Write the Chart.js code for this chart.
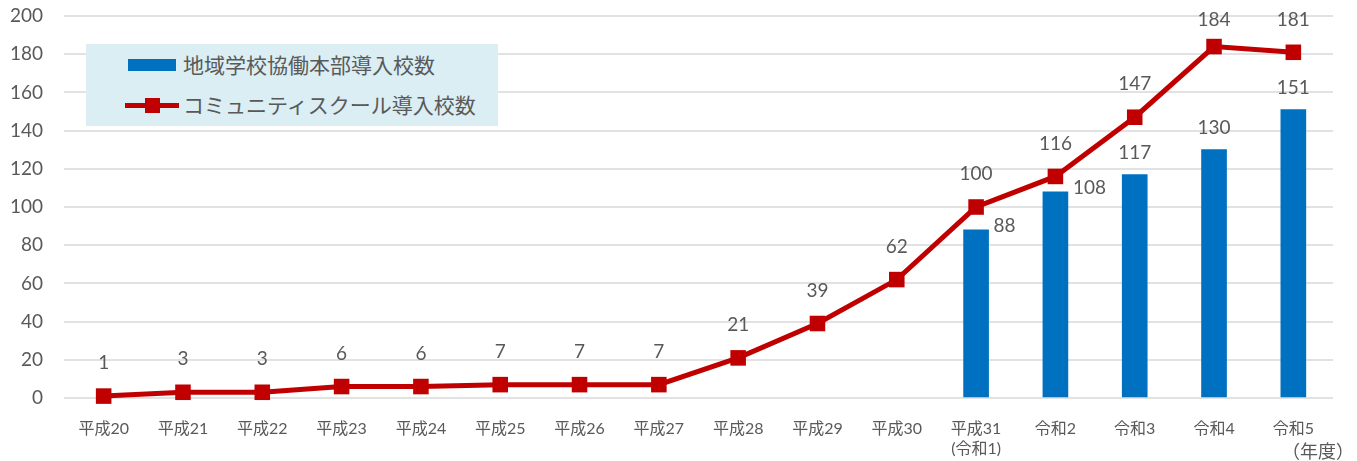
<!DOCTYPE html>
<html>
<head>
<meta charset="utf-8">
<script src="https://cdn.jsdelivr.net/npm/chart.js@4"></script>
<style>
  body { margin: 0; background: #fff; }
  #wrap { position: relative; width: 1357px; height: 461px; font-family: Lato, 'Noto Sans CJK JP', sans-serif; color: #595959; }
  #legend { position: absolute; left: 86px; top: 44px; width: 412px; height: 82px; background: #daeef3; }
  .row { position: absolute; left: 0; height: 24px; font-size: 21px; line-height: 24px; }
  .row span.txt { position: absolute; left: 97px; white-space: nowrap; }
  #unit { position: absolute; left: 1282px; top: 440px; font-size: 18px; line-height: 22px; white-space: nowrap; }
</style>
</head>
<body>
<div id="wrap">
  <canvas id="chart" width="1357" height="461"></canvas>
  <div id="legend">
    <div class="row" style="top:9px">
      <div style="position:absolute;left:42px;top:6px;width:48px;height:12px;background:#0070c0"></div>
      <span class="txt">地域学校協働本部導入校数</span>
    </div>
    <div class="row" style="top:49px">
      <div style="position:absolute;left:39px;top:10px;width:54px;height:5px;background:#c00000"></div>
      <div style="position:absolute;left:59px;top:5px;width:15px;height:15px;background:#c00000"></div>
      <span class="txt">コミュニティスクール導入校数</span>
    </div>
  </div>
  <div id="unit">（年度）</div>
</div>
<script>
const years = ['平成20', '平成21', '平成22', '平成23', '平成24', '平成25', '平成26', '平成27',
  '平成28', '平成29', '平成30', ['平成31', '(令和1)'], '令和2', '令和3', '令和4', '令和5'];
const honbu = [null, null, null, null, null, null, null, null, null, null, null, 88, 108, 117, 130, 151];
const community = [1, 3, 3, 6, 6, 7, 7, 7, 21, 39, 62, 100, 116, 147, 184, 181];
const yTicks = [0, 20, 40, 60, 80, 100, 120, 140, 160, 180, 200];

const FONT = "Lato, 'Noto Sans CJK JP', sans-serif";
const GRAY = '#595959';

// value labels: line above the point, bar above or to the right if the line label is close
const valueLabels = {
  id: 'valueLabels',
  afterDatasetsDraw(chart) {
    const ctx = chart.ctx;
    const lineMeta = chart.getDatasetMeta(1);
    const barMeta = chart.getDatasetMeta(0);
    ctx.save();
    ctx.font = '19px ' + FONT;
    ctx.fillStyle = GRAY;
    ctx.textBaseline = 'middle';

    lineMeta.data.forEach((pt, i) => {
      ctx.textAlign = 'center';
      ctx.fillText(String(community[i]), pt.x, Math.max(pt.y - 33, 20));
    });

    barMeta.data.forEach((bar, i) => {
      if (honbu[i] == null) return;
      if (Math.abs(community[i] - honbu[i]) < 15) {
        ctx.textAlign = 'left';
        ctx.fillText(String(honbu[i]), bar.x + bar.width / 2 + 5, bar.y - 4);
      } else {
        ctx.textAlign = 'center';
        ctx.fillText(String(honbu[i]), bar.x, bar.y - 22);
      }
    });
    ctx.restore();
  }
};

new Chart(document.getElementById('chart'), {
  type: 'bar',
  data: {
    labels: years,
    datasets: [
      {
        type: 'bar',
        label: '地域学校協働本部導入校数',
        data: honbu,
        backgroundColor: '#0070c0',
        barThickness: 25,
        order: 1
      },
      {
        type: 'line',
        label: 'コミュニティスクール導入校数',
        data: community,
        borderColor: '#c00000',
        borderWidth: 5,
        backgroundColor: '#c00000',
        pointStyle: 'rect',
        pointRadius: 11,
        pointBackgroundColor: '#c00000',
        pointBorderColor: '#c00000',
        pointBorderWidth: 0,
        tension: 0,
        clip: false,
        order: 0
      }
    ]
  },
  options: {
    responsive: false,
    animation: false,
    devicePixelRatio: 1,
    layout: { autoPadding: false, padding: { top: 16, right: 24, bottom: 0, left: 0 } },
    plugins: {
      legend: { display: false },
      tooltip: { enabled: false }
    },
    scales: {
      x: {
        grid: { display: false },
        border: { display: false },
        ticks: {
          color: GRAY,
          font: { family: FONT, size: 16, lineHeight: 1.25 },
          padding: 13,
          maxRotation: 0,
          autoSkip: false
        },
        afterFit(scale) { scale.height = 63; }
      },
      y: {
        min: 0,
        max: 200,
        afterBuildTicks(scale) { scale.ticks = yTicks.map(v => ({ value: v })); },
        grid: { color: '#e2e2e2', lineWidth: 2, drawTicks: false },
        border: { display: false },
        ticks: {
          color: GRAY,
          font: { family: FONT, size: 19 },
          padding: 21
        },
        afterFit(scale) {
          scale.width = 64;
          scale.paddingTop = 10;
          scale.paddingBottom = 10;
        }
      }
    }
  },
  plugins: [valueLabels]
});
</script>
</body>
</html>
